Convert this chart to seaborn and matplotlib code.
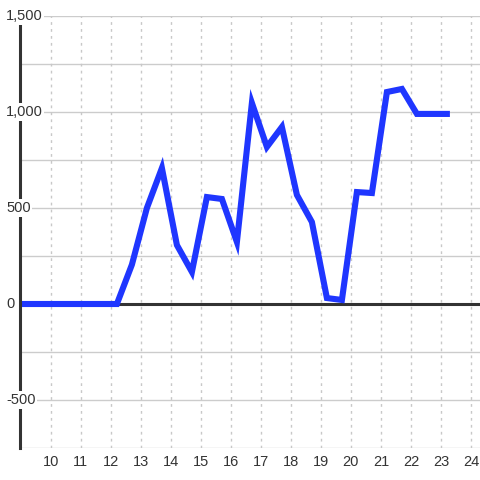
import numpy as np
import pandas as pd
import matplotlib
matplotlib.use("Agg")
import matplotlib.pyplot as plt
import matplotlib.transforms as mtransforms
import seaborn as sns

# values
x_vals = [8.7, 9.2, 9.7, 10.2, 10.7, 11.2, 11.7, 12.2, 12.7, 13.2, 13.7, 14.2,
          14.7, 15.2, 15.7, 16.2, 16.7, 17.2, 17.7, 18.2, 18.7, 19.2, 19.7,
          20.2, 20.7, 21.2, 21.7, 22.2, 22.7, 23.3]
y_vals = [0, 0, 0, 0, 0, 0, 0, 0, 205, 500, 708, 307,
          167, 557, 547, 323, 1047, 818, 922, 568, 427, 31, 21,
          583, 578, 1104, 1120, 990, 990, 990]
x_ticks = list(range(10, 25))
y_ticks = [-500, 0, 500, 1000, 1500]
y_grid = [-750, -500, -250, 0, 250, 500, 750, 1000, 1250, 1500]

df = pd.DataFrame({"x": x_vals, "y": y_vals})

sns.set_style("white")
plt.rcParams["font.family"] = ["Liberation Sans", "DejaVu Sans"]

fig = plt.figure(figsize=(4.8, 4.8), dpi=100)
ax = fig.add_axes([20 / 480, 32 / 480, 460 / 480, 432 / 480])

# grid
for g in y_grid:
    ax.axhline(g, color="#cccccc", lw=1, zorder=0)
for t in x_ticks:
    ax.axvline(t, color="#c8c8c8", lw=1, ls=(0, (2, 3)), zorder=0)

ax.axhline(0, color="#333333", lw=2.2, zorder=1)

sns.lineplot(data=df, x="x", y="y", ax=ax, color="#1f36ff", lw=4.4,
             solid_joinstyle="miter", solid_capstyle="butt", zorder=2)

ax.set_xlim(8.97, 8.97 + 460 / 30)
ax.set_ylim(-750, 1500)

for s in ["top", "right", "bottom"]:
    ax.spines[s].set_visible(False)
ax.spines["left"].set_color("#333333")
ax.spines["left"].set_linewidth(2.2)
ax.spines["left"].set_zorder(2.5)

ax.set_xticks(x_ticks)
ax.set_xticklabels([str(t) for t in x_ticks], fontsize=10.5, color="#333333")
ax.tick_params(axis="x", length=0, pad=5)
ax.set_yticks([])
ax.set_xlabel("")
ax.set_ylabel("")

trans = mtransforms.blended_transform_factory(ax.transAxes, ax.transData)
for v in y_ticks:
    ax.text(-14 / 460, v, f"{v:,}", transform=trans, ha="left", va="center",
            fontsize=10.5, color="#333333", clip_on=False, zorder=4,
            bbox=dict(facecolor="white", edgecolor="none", pad=1.2))

fig.savefig("out.png", dpi=100)
